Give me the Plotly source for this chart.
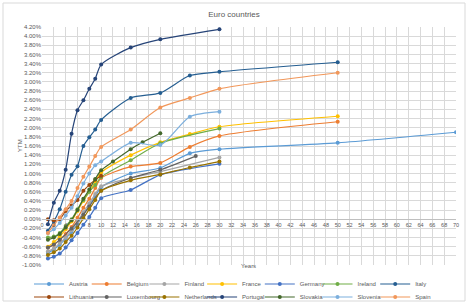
import plotly.graph_objects as go

# ---------------- data (maturity in years, yield in %) ----------------
austria_m = [1, 2, 3, 4, 5, 6, 7, 8, 9, 10, 15, 20, 25, 30, 50, 70]
austria_y = [-0.74, -0.66, -0.56, -0.42, -0.28, -0.10, 0.10, 0.30, 0.50, 0.70, 1.00, 1.12, 1.44, 1.53, 1.67, 1.90]

belgium_m = [1, 2, 3, 4, 5, 6, 7, 8, 9, 10, 15, 20, 25, 30, 50]
belgium_y = [-0.62, -0.56, -0.45, -0.32, -0.17, 0.03, 0.25, 0.45, 0.68, 0.90, 1.15, 1.23, 1.58, 1.82, 2.13]

finland_m = [1, 2, 3, 4, 5, 6, 7, 8, 9, 10, 15, 20, 30]
finland_y = [-0.70, -0.64, -0.52, -0.40, -0.24, -0.05, 0.15, 0.35, 0.55, 0.72, 0.90, 1.04, 1.35]

france_m = [1, 2, 3, 4, 5, 6, 7, 8, 9, 10, 15, 20, 25, 30, 50]
france_y = [-0.60, -0.50, -0.38, -0.22, -0.05, 0.18, 0.40, 0.60, 0.82, 1.02, 1.40, 1.68, 1.86, 2.02, 2.25]

germany_m = [1, 2, 3, 4, 5, 6, 7, 8, 9, 10, 15, 20, 30]
germany_y = [-0.86, -0.82, -0.75, -0.62, -0.46, -0.30, -0.12, 0.05, 0.25, 0.46, 0.64, 0.97, 1.21]

ireland_m = [1, 2, 3, 4, 5, 6, 7, 8, 9, 10, 15, 20, 30]
ireland_y = [-0.40, -0.38, -0.30, -0.15, 0.00, 0.22, 0.42, 0.60, 0.75, 0.92, 1.29, 1.66, 1.98]

italy_m = [1, 2, 3, 4, 5, 6, 7, 8, 9, 10, 15, 20, 25, 30, 50]
italy_y = [-0.25, -0.05, 0.22, 0.60, 0.97, 1.16, 1.60, 1.79, 1.96, 2.17, 2.65, 2.76, 3.14, 3.22, 3.43]

lithuania_m = [1, 2, 3, 4, 5, 6, 7, 8, 9, 10]
lithuania_y = [0.00, -0.02, 0.00, 0.18, 0.30, 0.42, 0.62, 0.75, 0.86, 0.95]

luxembourg_m = [1, 2, 3, 5, 7, 8, 10, 15, 20, 26]
luxembourg_y = [-0.62, -0.55, -0.45, -0.20, 0.10, 0.28, 0.62, 0.90, 1.08, 1.38]

netherlands_m = [1, 2, 3, 4, 5, 6, 7, 8, 9, 10, 15, 20, 25, 30]
netherlands_y = [-0.78, -0.72, -0.64, -0.50, -0.36, -0.18, 0.02, 0.22, 0.42, 0.62, 0.85, 0.98, 1.13, 1.26]

portugal_m = [1, 2, 3, 4, 5, 6, 7, 8, 9, 10, 15, 20, 30]
portugal_y = [-0.11, 0.36, 0.62, 1.08, 1.87, 2.38, 2.60, 2.85, 3.07, 3.38, 3.75, 3.93, 4.15]

slovakia_m = [1, 2, 3, 4, 5, 6, 7, 8, 9, 10, 12, 15, 17, 20]
slovakia_y = [-0.45, -0.40, -0.32, -0.18, -0.02, 0.20, 0.45, 0.65, 0.88, 1.07, 1.26, 1.53, 1.68, 1.88]

slovenia_m = [1, 2, 3, 4, 5, 6, 7, 8, 9, 10, 15, 20, 25, 30]
slovenia_y = [-0.30, -0.22, -0.08, 0.08, 0.25, 0.50, 0.78, 1.00, 1.18, 1.26, 1.67, 1.62, 2.24, 2.35]

spain_m = [1, 2, 3, 4, 5, 6, 7, 8, 9, 10, 15, 20, 25, 30, 50]
spain_y = [-0.30, -0.13, 0.04, 0.22, 0.40, 0.68, 0.93, 1.15, 1.38, 1.58, 1.96, 2.44, 2.65, 2.85, 3.20]

y_ticks = [round(-1.0 + 0.2 * i, 2) for i in range(27)]
x_ticks = list(range(0, 72, 2))

series = [
    ("Austria", austria_m, austria_y, "#5B9BD5", "legend"),
    ("Belgium", belgium_m, belgium_y, "#ED7D31", "legend"),
    ("Finland", finland_m, finland_y, "#A5A5A5", "legend"),
    ("France", france_m, france_y, "#FFC000", "legend"),
    ("Germany", germany_m, germany_y, "#4472C4", "legend"),
    ("Ireland", ireland_m, ireland_y, "#70AD47", "legend"),
    ("Italy", italy_m, italy_y, "#255E91", "legend"),
    ("Lithuania", lithuania_m, lithuania_y, "#9E480E", "legend2"),
    ("Luxembourg", luxembourg_m, luxembourg_y, "#636363", "legend2"),
    ("Netherlands", netherlands_m, netherlands_y, "#997300", "legend2"),
    ("Portugal", portugal_m, portugal_y, "#264478", "legend2"),
    ("Slovakia", slovakia_m, slovakia_y, "#43682B", "legend2"),
    ("Slovenia", slovenia_m, slovenia_y, "#7CAFDD", "legend2"),
    ("Spain", spain_m, spain_y, "#F1975A", "legend2"),
]

W, H = 468, 304
L, R, T, B = 42, 12, 27, 39
pw, ph = W - L - R, H - T - B


def px_x(p):
    return (p - L) / pw


def px_y(p):
    return (H - B - p) / ph


fig = go.Figure()
for name, m, y, col, lg in series:
    fig.add_trace(go.Scatter(
        x=m, y=y, name=name, mode="lines+markers",
        line=dict(color=col, width=1.2, shape="spline", smoothing=0.7),
        marker=dict(color=col, size=4),
        legend=lg,
    ))

font = "Liberation Sans, Arial, sans-serif"
gray = "#595959"

legend_common = dict(
    orientation="h", xanchor="left", yanchor="middle",
    font=dict(family=font, size=6, color=gray),
    itemwidth=30, entrywidth=12.7, entrywidthmode="pixels",
    bgcolor="rgba(0,0,0,0)", borderwidth=0, tracegroupgap=0,
)

fig.update_layout(
    width=W, height=H,
    margin=dict(l=L, r=R, t=T, b=B, pad=0, autoexpand=False),
    paper_bgcolor="white", plot_bgcolor="white",
    font=dict(family=font, color=gray),
    title=dict(text="Euro countries", x=234 / W, xref="container", xanchor="center",
               y=1 - 14 / H, yref="container", yanchor="middle",
               font=dict(family=font, size=8, color=gray)),
    xaxis=dict(range=[0, 70], tickvals=x_ticks, ticktext=[str(v) for v in x_ticks],
               showgrid=True, gridcolor="#D9D9D9", gridwidth=1,
               zeroline=False, showline=True, linecolor="#BFBFBF", linewidth=1,
               anchor="free", position=1.0 / 5.2, ticks="",
               tickfont=dict(family=font, size=5.5, color=gray)),
    yaxis=dict(range=[-1.0, 4.2], tickvals=y_ticks,
               ticktext=[f"{v:.2f}%" for v in y_ticks],
               showgrid=True, gridcolor="#D9D9D9", gridwidth=1,
               zeroline=False, showline=False, ticks="",
               tickfont=dict(family=font, size=6, color=gray)),
    legend=dict(x=px_x(29), y=px_y(284), **legend_common),
    legend2=dict(x=px_x(29), y=px_y(297), **legend_common),
    showlegend=True,
)

fig.add_annotation(text="Years", x=px_x(248), y=px_y(271), xref="paper", yref="paper",
                   showarrow=False, font=dict(family=font, size=6, color=gray))
fig.add_annotation(text="YTM", x=px_x(15), y=0.5, xref="paper", yref="paper",
                   textangle=-90, showarrow=False, font=dict(family=font, size=6, color=gray))

fig.add_shape(type="rect", xref="paper", yref="paper",
              x0=px_x(3), x1=px_x(465), y0=px_y(301), y1=px_y(3),
              line=dict(color="#D9D9D9", width=1), fillcolor="rgba(0,0,0,0)", layer="below")

fig.write_html("out.html")
